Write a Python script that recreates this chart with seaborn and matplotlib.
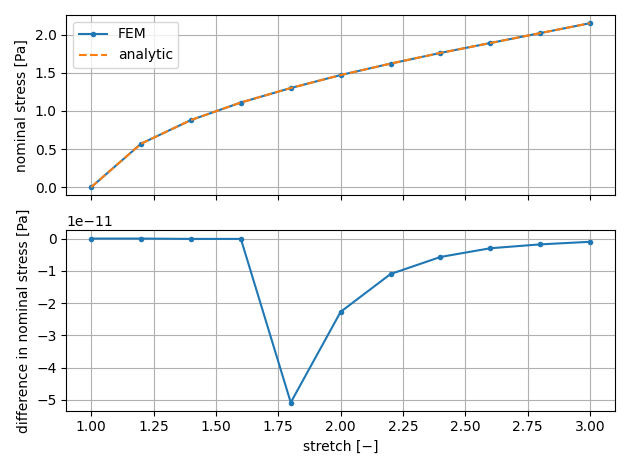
import matplotlib
matplotlib.use("Agg")
import matplotlib.pyplot as plt
import seaborn as sns
import numpy as np

stretch = [1.0, 1.2, 1.4, 1.6, 1.8, 2.0, 2.2, 2.4, 2.6, 2.8, 3.0]
fem = [0.0, 0.57, 0.88, 1.11, 1.30, 1.47, 1.62, 1.76, 1.89, 2.02, 2.15]
analytic = [0.0, 0.57, 0.88, 1.11, 1.30, 1.47, 1.62, 1.76, 1.89, 2.02, 2.15]
diff = [0.0, 0.0, -0.01e-11, -0.01e-11, -5.08e-11, -2.27e-11, -1.1e-11, -0.57e-11, -0.3e-11, -0.18e-11, -0.1e-11]

fig, (ax1, ax2) = plt.subplots(2, 1, sharex=True, figsize=(6.3, 4.69), dpi=100)
sns.lineplot(x=stretch, y=fem, ax=ax1, marker="o", markersize=4, markeredgewidth=0, label="FEM", color="C0")
sns.lineplot(x=stretch, y=analytic, ax=ax1, linestyle="--", label="analytic", color="C1")
ax1.set_ylabel("nominal stress [Pa]")
ax1.grid(True)
ax1.legend(loc="upper left")
sns.lineplot(x=stretch, y=diff, ax=ax2, marker="o", markersize=4, markeredgewidth=0, color="C0")
ax2.set_ylabel("difference in nominal stress [Pa]")
ax2.set_xlabel("stretch [−]")
ax2.grid(True)
fig.tight_layout()
fig.savefig("out.png")
